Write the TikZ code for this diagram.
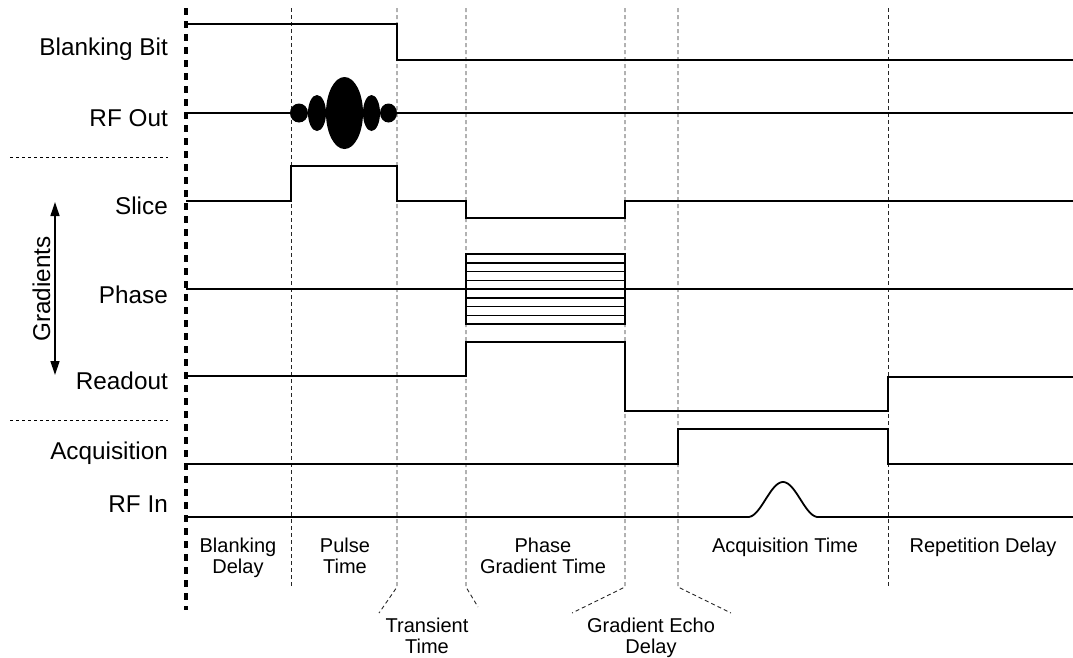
\documentclass[tikz,border=0pt]{standalone}
\usepackage{fontspec}
\setmainfont{Liberation Sans}
\usetikzlibrary{arrows.meta}

\begin{document}
\begin{tikzpicture}[x=1pt,y=-1pt,
  signal/.style={draw=black,line width=1.8pt},
  tick/.style={draw=black!85,line width=0.9pt,dash pattern=on 4pt off 3pt},
  axis/.style={draw=black,line width=3.6pt,dash pattern=on 7pt off 6pt},
  sep/.style={draw=black,line width=0.9pt,dash pattern=on 3pt off 3pt},
  lbl/.style={anchor=base east,inner sep=0pt,font=\fontsize{24.3}{27}\selectfont},
  span/.style={anchor=north,inner sep=0pt,align=center,font=\fontsize{20}{21.5}\selectfont},
  lobe/.style={fill=black}
]
\useasboundingbox (0,0) rectangle (1073,657);

% time marks
\foreach \x in {291,888} {
  \draw[tick] (\x,8) -- (\x,587);
}
\draw[tick] (397,8) -- (397,587) -- (379,613);
\draw[tick] (466,8) -- (466,587) -- (478,607);
\draw[tick] (625,8) -- (625,587) -- (572,613);
\draw[tick] (678,8) -- (678,587) -- (731,613);
\draw[axis] (186,8) -- (186,610);

% separators
\draw[sep] (10,157) -- (168,157);
\draw[sep] (10,420) -- (168,420);

% channel labels
\node[lbl] (blankbit) at (168,55) {Blanking Bit};
\node[lbl] (rfout) at (168,126) {RF Out};
\node[lbl] (slice) at (168,214) {Slice};
\node[lbl] (phase) at (168,303) {Phase};
\node[lbl] (readout) at (168,389) {Readout};
\node[lbl] (acq) at (168,459) {Acquisition};
\node[lbl] (rfin) at (168,512) {RF In};

% gradients axis
\coordinate (grad-top) at (55,202);
\coordinate (grad-bot) at (55,375);
\draw[line width=1.3pt,{Triangle[length=14pt,width=9pt]}-{Triangle[length=14pt,width=9pt]}] (grad-top) -- (grad-bot);
\node[rotate=90,anchor=base,inner sep=0pt,font=\fontsize{24.3}{27}\selectfont] (gradients) at (50,289) {Gradients};

% blanking bit
\draw[signal] (186,24) -- (397,24) -- (397,60) -- (1073,60);

% rf out
\draw[signal] (186,113) -- (1073,113);
\foreach \cx/\rx/\ry in {299/9/9.5,317/9/18,344.5/18.5/36,371.5/8.5/18,388.5/8.5/9.5} {
  \fill[lobe] (\cx,113) ellipse [x radius=\rx, y radius=\ry];
}

% slice
\draw[signal] (186,201) -- (291,201) -- (291,166) -- (397,166) -- (397,201)
  -- (466,201) -- (466,218) -- (625,218) -- (625,201) -- (1073,201);

% phase
\draw[signal] (186,289) -- (1073,289);
\draw[line width=1.5pt] (466,254) rectangle (625,324);
\foreach \k in {1,...,7} {
  \draw[line width=1.5pt] (466,254+8.75*\k) -- (625,254+8.75*\k);
}

% readout
\draw[signal] (186,376) -- (466,376) -- (466,342) -- (625,342) -- (625,411)
  -- (888,411) -- (888,377) -- (1073,377);

% acquisition
\draw[signal] (186,464) -- (678,464) -- (678,429) -- (888,429) -- (888,464) -- (1073,464);

% rf in
\draw[signal] (186,517) -- (748,517)
  -- plot[domain=748:818,samples=50] (\x,{517-17.5*(1+cos(180*(\x-783)/35))})
  -- (1073,517);

% interval labels
\node[span] (blankdelay) at (238,537.5) {Blanking\\Delay};
\node[span] (pulsetime) at (345,537.5) {Pulse\\Time};
\node[span] (phasetime) at (543,537.5) {Phase\\Gradient Time};
\node[span] (acqtime) at (785,537.5) {Acquisition Time};
\node[span] (repdelay) at (983,537.5) {Repetition Delay};
\node[span] (transtime) at (427,617.5) {Transient\\Time};
\node[span] (echodelay) at (651,617.5) {Gradient Echo\\Delay};
\end{tikzpicture}
\end{document}
